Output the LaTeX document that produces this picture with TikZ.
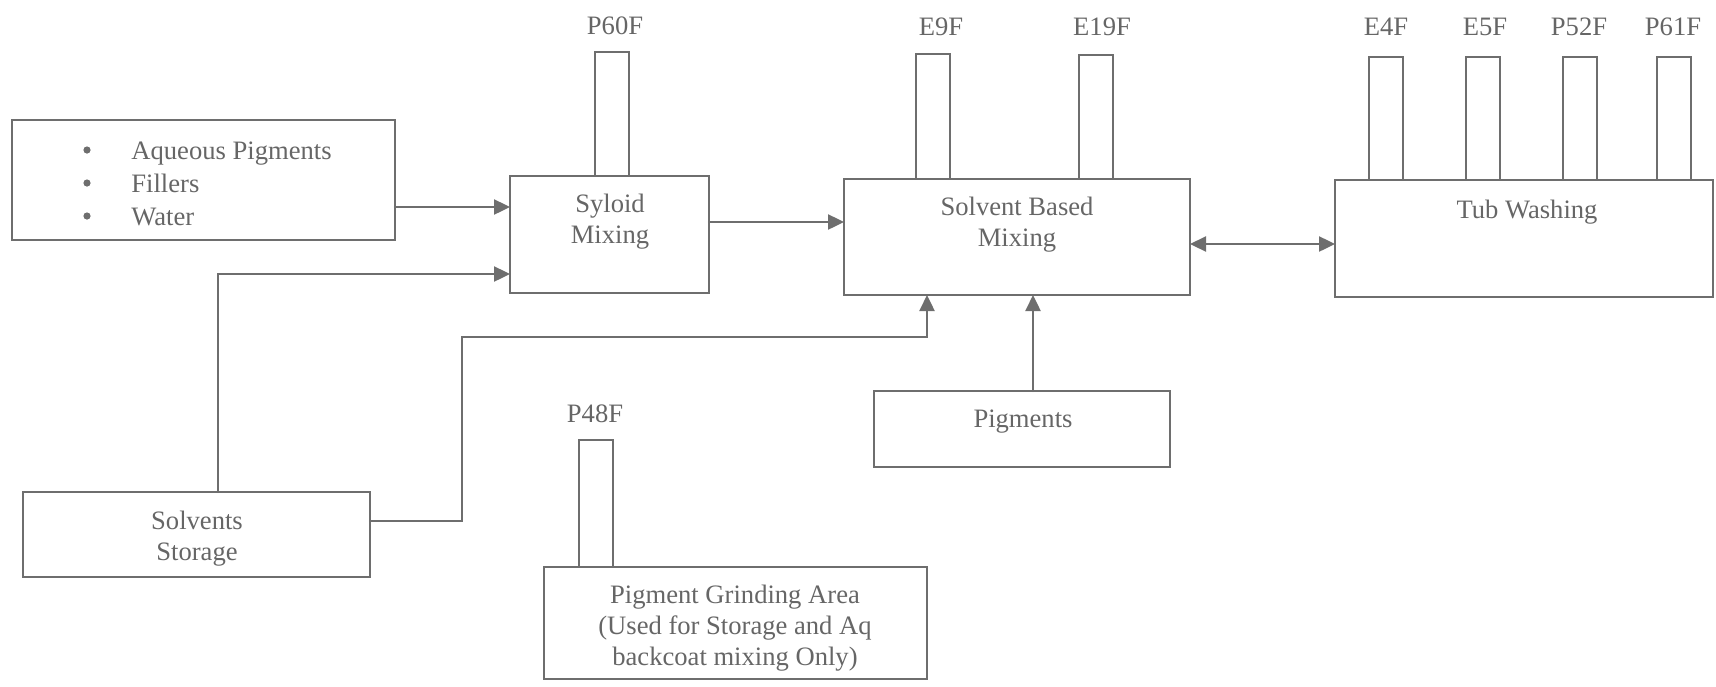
\documentclass[tikz,border=0pt]{standalone}
\usepackage{fontspec}
\setmainfont{Liberation Serif}
\usetikzlibrary{arrows.meta}
\definecolor{pfline}{HTML}{6E6E6E}
\definecolor{pfink}{HTML}{666666}

\begin{document}
\begin{tikzpicture}[x=0.5pt, y=-0.5pt, line cap=round,
  box/.style={draw=pfline, line width=1pt, inner sep=0pt, outer sep=0pt, anchor=north west},
  stack/.style={draw=pfline, line width=1pt, inner sep=0pt, outer sep=0pt, anchor=south west, minimum width=17pt},
  txt/.style={text=pfink, font=\fontsize{13.3}{15.6}\selectfont, align=center, inner sep=0pt},
  dot/.style={circle, fill=pfline, inner sep=0pt, minimum size=3.6pt},
  flow/.style={pfline, line width=1.2pt, -{Triangle[length=8pt,width=7.5pt]}},
  twoway/.style={pfline, line width=1.2pt, {Triangle[length=8pt,width=7.5pt]}-{Triangle[length=8pt,width=7.5pt]}}]
  \useasboundingbox (0,0) rectangle (1716,686);

  % process areas
  \node[box, minimum width=191.5pt, minimum height=60pt] (aq) at (12,120) {};
  \node[box, minimum width=99.5pt, minimum height=58.5pt] (syl) at (510,176) {};
  \node[box, minimum width=173pt, minimum height=58pt] (sbm) at (844,179) {};
  \node[box, minimum width=189pt, minimum height=58.5pt] (tub) at (1335,180) {};
  \node[box, minimum width=173.5pt, minimum height=42.5pt] (ss) at (23,492) {};
  \node[box, minimum width=148pt, minimum height=38pt] (pig) at (874,391) {};
  \node[box, minimum width=191.5pt, minimum height=56pt] (pga) at (544,567) {};

  \foreach \i/\y in {1/150, 2/183, 3/216}
    \node[dot] (bul\i) at (87,\y) {};
  \node[txt, anchor=west, align=left, font=\fontsize{13.3}{16.4}\selectfont] (aqtxt) at (131,184)
    {Aqueous Pigments\\ Fillers\\ Water};
  \node[txt] (syltxt) at (610,222) {Syloid\\Mixing};
  \node[txt] (sbmtxt) at (1017,225) {Solvent Based\\Mixing};
  \node[txt] (tubtxt) at (1527,212) {Tub Washing};
  \node[txt] (sstxt) at (197,539) {Solvents\\Storage};
  \node[txt] (pigtxt) at (1023,422) {Pigments};
  \node[txt] (pgatxt) at (735,628) {Pigment Grinding Area\\(Used for Storage and Aq\\backcoat mixing Only)};

  % stacks
  \node[stack, minimum height=62pt] (sP60F) at (595,176) {};
  \node[txt] (lP60F) at (615,26) {P60F};
  \node[stack, minimum height=62.5pt] (sE9F) at (916,179) {};
  \node[txt] (lE9F) at (941,27) {E9F};
  \node[stack, minimum height=62pt] (sE19F) at (1079,179) {};
  \node[txt] (lE19F) at (1102,27) {E19F};
  \node[stack, minimum height=63.5pt] (sP48F) at (579,567) {};
  \node[txt] (lP48F) at (595,414) {P48F};
  \foreach \nm/\px/\lx in {E4F/1369/1386, E5F/1466/1485, P52F/1563/1579, P61F/1657/1673} {
    \node[stack, minimum height=61.5pt] (s\nm) at (\px,180) {};
    \node[txt] (l\nm) at (\lx,27) {\nm};
  }

  % flows
  \coordinate (kA) at (218,274);
  \coordinate (kB) at (462,521);
  \coordinate (kC) at (462,337);
  \coordinate (kD) at (927,337);
  \draw[flow] (aq.east |- 0,207) -- (syl.west |- 0,207);
  \draw[flow] (ss.north -| kA) -- (kA) -- (syl.west |- kA);
  \draw[flow] (syl.east |- 0,222) -- (sbm.west |- 0,222);
  \draw[flow] (ss.east |- kB) -- (kB) -- (kC) -- (kD) -- (sbm.south -| kD);
  \draw[flow] (pig.north -| 1033,0) -- (sbm.south -| 1033,0);
  \draw[twoway] (sbm.east |- 0,244) -- (tub.west |- 0,244);
\end{tikzpicture}
\end{document}
